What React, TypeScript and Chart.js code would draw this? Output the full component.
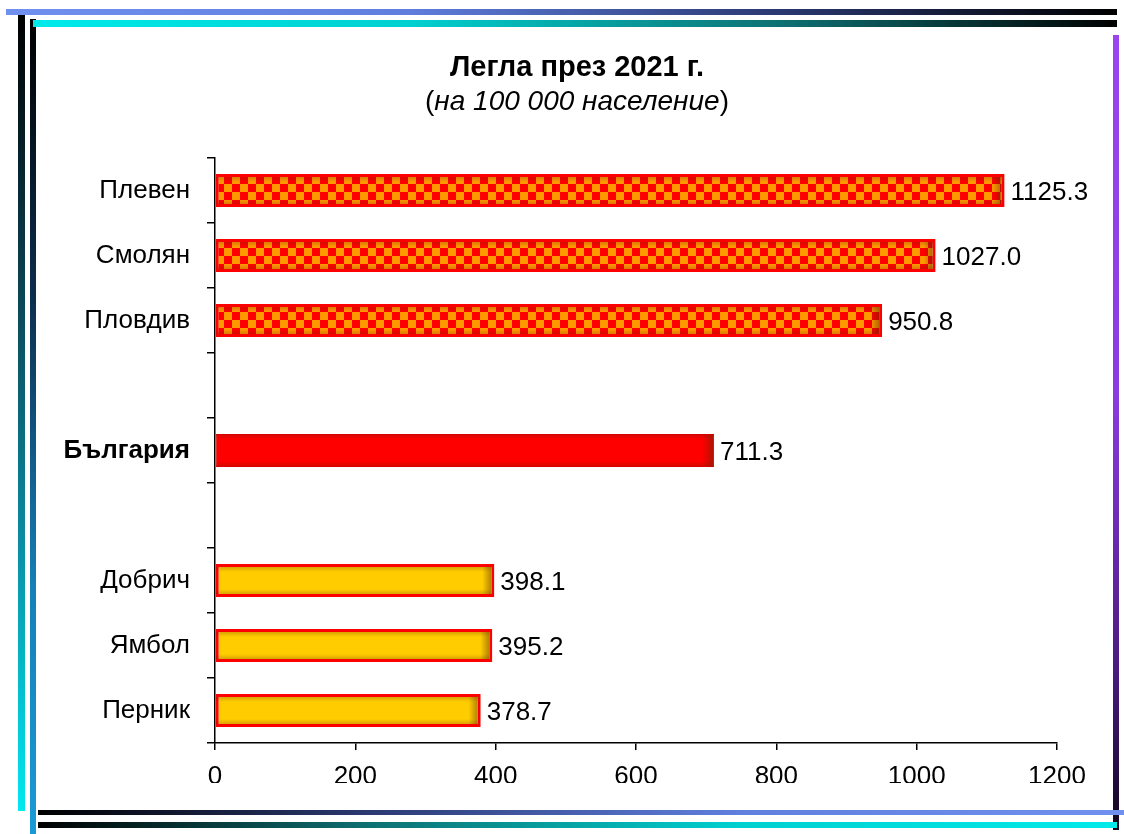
import React, { useEffect, useRef } from "react";
import { Chart, registerables } from "chart.js";

Chart.register(...registerables);

const categories = ["Плевен", "Смолян", "Пловдив", "", "България", "", "Добрич", "Ямбол", "Перник"];
const values: (number | null)[] = [1125.3, 1027.0, 950.8, null, 711.3, null, 398.1, 395.2, 378.7];
const xTicks = [0, 200, 400, 600, 800, 1000, 1200];
const titleText = "Легла през 2021 г.";
const subtitleText = "на 100 000 население";
const barKinds = ["check", "check", "check", "none", "red", "none", "yellow", "yellow", "yellow"];

const FONT = "'Liberation Sans', Arial, sans-serif";
const FS = 26;

function makeChecker(): CanvasPattern | string {
  const c = document.createElement("canvas");
  const s = 8;
  c.width = s * 2;
  c.height = s * 2;
  const g = c.getContext("2d");
  if (!g) return "#ff9900";
  g.fillStyle = "#ff9900";
  g.fillRect(0, 0, s * 2, s * 2);
  g.fillStyle = "#ff0000";
  g.fillRect(0, 0, s, s);
  g.fillRect(s, s, s, s);
  const p = g.createPattern(c, "repeat");
  return p || "#ff9900";
}

const titlePlugin = {
  id: "titlePlugin",
  afterDraw(chart: any) {
    const ctx = chart.ctx as CanvasRenderingContext2D;
    const cx = 577;
    ctx.save();
    ctx.fillStyle = "#000";
    ctx.textBaseline = "alphabetic";
    ctx.textAlign = "center";
    ctx.font = `bold 29px ${FONT}`;
    ctx.fillText(titleText, cx, 76);
    ctx.textAlign = "left";
    const nf = `28px ${FONT}`;
    const itf = `italic 28px ${FONT}`;
    ctx.font = nf;
    const wl = ctx.measureText("(").width;
    const wr = ctx.measureText(")").width;
    ctx.font = itf;
    const wm = ctx.measureText(subtitleText).width;
    let x = cx - (wl + wm + wr) / 2;
    ctx.font = nf;
    ctx.fillText("(", x, 110);
    x += wl;
    ctx.font = itf;
    ctx.fillText(subtitleText, x, 110);
    x += wm;
    ctx.font = nf;
    ctx.fillText(")", x, 110);
    ctx.restore();
  },
};

const barDecorPlugin = {
  id: "barDecor",
  afterDatasetsDraw(chart: any) {
    const ctx = chart.ctx as CanvasRenderingContext2D;
    const meta = chart.getDatasetMeta(0);
    ctx.save();
    meta.data.forEach((bar: any, i: number) => {
      const v = values[i];
      if (v == null) return;
      const { x, y, base, height } = bar.getProps(["x", "y", "base", "height"], true);
      const top = y - height / 2;
      const bw = barKinds[i] === "red" ? 1 : 3;
      const g = ctx.createLinearGradient(x - 12, 0, x - bw, 0);
      g.addColorStop(0, "rgba(90,40,0,0)");
      g.addColorStop(1, "rgba(90,40,0,0.45)");
      ctx.fillStyle = g;
      ctx.fillRect(x - 12, top + bw, 12 - bw, height - 2 * bw);
      const gt = ctx.createLinearGradient(0, top + bw, 0, top + bw + 5);
      gt.addColorStop(0, "rgba(100,40,0,0.25)");
      gt.addColorStop(1, "rgba(100,40,0,0)");
      ctx.fillStyle = gt;
      ctx.fillRect(base, top + bw, x - base - bw, 5);
      const gb = ctx.createLinearGradient(0, top + height - bw - 5, 0, top + height - bw);
      gb.addColorStop(0, "rgba(100,40,0,0)");
      gb.addColorStop(1, "rgba(100,40,0,0.25)");
      ctx.fillStyle = gb;
      ctx.fillRect(base, top + height - bw - 5, x - base - bw, 5);
      ctx.fillStyle = "#000";
      ctx.font = `${FS}px ${FONT}`;
      ctx.textAlign = "left";
      ctx.textBaseline = "middle";
      ctx.fillText(v.toFixed(1), x + 6, y + 2);
    });
    ctx.restore();
  },
};

export default function App() {
  const ref = useRef<HTMLCanvasElement | null>(null);

  useEffect(() => {
    if (!ref.current) return;
    const checker = makeChecker();
    const bg = barKinds.map((k) =>
      k === "check" ? checker : k === "red" ? "#ff0000" : k === "yellow" ? "#ffcc00" : "rgba(0,0,0,0)"
    );
    const bc = barKinds.map((k) => (k === "red" ? "#d80000" : "#ff0000"));
    const bws = barKinds.map((k) => (k === "red" ? 1 : 3));

    const chart = new Chart(ref.current, {
      type: "bar",
      data: {
        labels: categories,
        datasets: [
          {
            data: values as any,
            backgroundColor: bg as any,
            borderColor: bc,
            borderWidth: bws,
            borderSkipped: false,
            categoryPercentage: 1,
            barPercentage: 0.51,
          },
        ],
      },
      options: {
        indexAxis: "y",
        animation: false,
        responsive: false,
        devicePixelRatio: 1,
        layout: { padding: { top: 158, right: 67, bottom: 51, left: 0 } },
        plugins: {
          legend: { display: false },
          title: { display: false },
          tooltip: { enabled: false },
        },
        scales: {
          x: {
            type: "linear",
            min: 0,
            max: 1200,
            afterBuildTicks: (scale: any) => {
              scale.ticks = xTicks.map((v) => ({ value: v }));
            },
            afterFit: (scale: any) => {
              scale.height = 40;
            },
            grid: { drawOnChartArea: false, tickLength: 7, color: "#000", lineWidth: 1.5 },
            border: { color: "#000", width: 1.5 },
            ticks: {
              color: "#000",
              font: { size: FS, family: FONT },
              padding: 11,
              maxRotation: 0,
              callback: (v: any) => String(v),
            },
          },
          y: {
            type: "category",
            afterFit: (scale: any) => {
              scale.width = 215;
            },
            grid: { drawOnChartArea: false, offset: true, tickLength: 8, color: "#000", lineWidth: 1.5 },
            border: { color: "#000", width: 1.5 },
            ticks: {
              color: "#000",
              padding: 17,
              font: (c: any) =>
                c.index === 4
                  ? { size: FS, family: FONT, weight: "bold" }
                  : { size: FS, family: FONT, weight: "normal" },
            },
          },
        },
      },
      plugins: [barDecorPlugin, titlePlugin],
    });
    return () => chart.destroy();
  }, []);

  const line = (style: React.CSSProperties) => (
    <div style={{ position: "absolute", ...style }} />
  );

  return (
    <div style={{ position: "absolute", left: 0, top: 0, width: 1124, height: 834, background: "#fff", overflow: "hidden" }}>
      <canvas ref={ref} width={1124} height={834} style={{ position: "absolute", left: 0, top: 0 }} />
      {line({ left: 18, top: 15, width: 7, height: 796, background: "linear-gradient(to bottom, #000 0%, #0a3a48 30%, #0a8aa0 65%, #00e8f0 100%)" })}
      {line({ left: 30, top: 19, width: 6, height: 815, background: "linear-gradient(to bottom, #000 0%, #0c3050 35%, #1580b8 70%, #1a9ad6 100%)" })}
      {line({ left: 1113, top: 35, width: 6, height: 795, background: "linear-gradient(to bottom, #9a45f0 0%, #8a3ce0 45%, #4a1a80 80%, #10061c 100%)" })}
      {line({ left: 6, top: 9, width: 1111, height: 6, background: "linear-gradient(to right, #7090f0 0%, #6080e0 35%, #2a3870 70%, #000 100%)" })}
      {line({ left: 33, top: 20, width: 1084, height: 7, background: "linear-gradient(to right, #00eaea 0%, #00d0d0 35%, #0e6e70 70%, #000 100%)" })}
      {line({ left: 38, top: 810, width: 1086, height: 5, background: "linear-gradient(to right, #000 0%, #2a3870 30%, #6080e0 65%, #7090f0 100%)" })}
      {line({ left: 38, top: 822, width: 1079, height: 6, background: "linear-gradient(to right, #000 0%, #0e6e70 30%, #00d0d0 65%, #00eaea 100%)" })}
    </div>
  );
}
